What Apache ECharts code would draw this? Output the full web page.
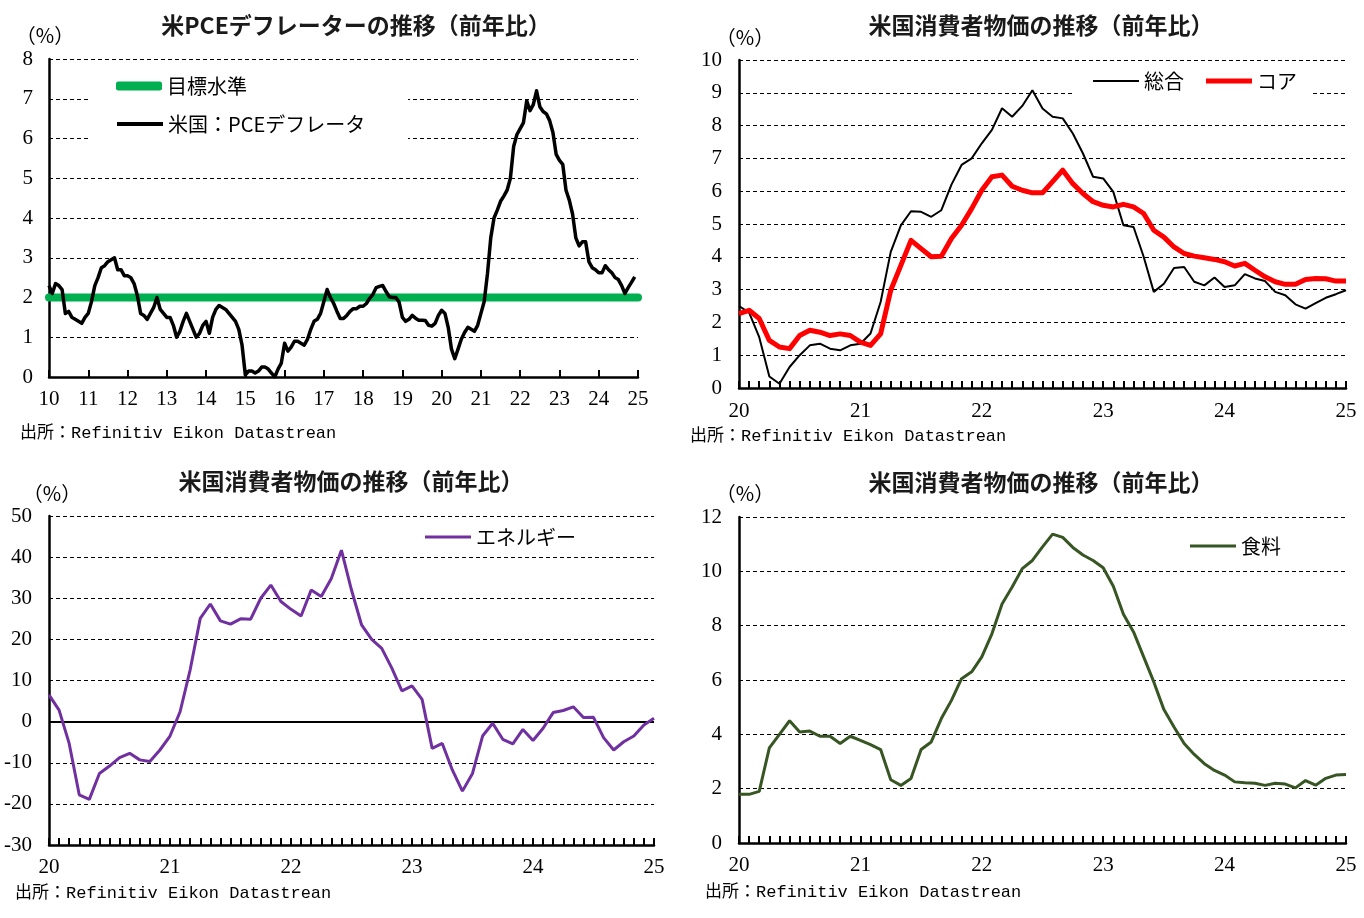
<!DOCTYPE html>
<html lang="ja">
<head>
    <meta charset="UTF-8">
    <title>米国物価の推移</title>
    <style>
        html, body { margin: 0; padding: 0; background: #fff; }
    </style>
</head>
<body>
<div id="main" style="width: 1364px;height:918px;"></div>
<script src="https://cdn.jsdelivr.net/npm/echarts@6/dist/echarts.min.js"></script>
<script>
    // PCEデフレーター 前年比（2010年1月〜2024年12月、月次）
    var pceStart = 10;
    var pceValues = [
        2.3, 2.1, 2.35, 2.3, 2.2, 1.6, 1.65, 1.5, 1.45, 1.4, 1.35, 1.5,
        1.6, 1.9, 2.3, 2.5, 2.75, 2.8, 2.9, 2.95, 3.0, 2.7, 2.7, 2.55,
        2.55, 2.5, 2.35, 2.05, 1.6, 1.55, 1.45, 1.6, 1.75, 2.0, 1.7, 1.6,
        1.5, 1.5, 1.3, 1.0, 1.15, 1.4, 1.6, 1.4, 1.2, 1.0, 1.1, 1.3,
        1.4, 1.1, 1.5, 1.7, 1.8, 1.75, 1.7, 1.6, 1.5, 1.4, 1.2, 0.8,
        0.05, 0.15, 0.15, 0.1, 0.15, 0.25, 0.25, 0.2, 0.1, 0.0, 0.2, 0.35,
        0.85, 0.65, 0.75, 0.9, 0.9, 0.85, 0.8, 0.95, 1.2, 1.4, 1.45, 1.6,
        1.9, 2.2, 2.0, 1.85, 1.65, 1.47, 1.47, 1.55, 1.65, 1.72, 1.72, 1.78,
        1.78, 1.85, 1.98, 2.08, 2.25, 2.28, 2.3, 2.15, 2.02, 2.0, 2.0, 1.88,
        1.5, 1.4, 1.45, 1.55, 1.48, 1.43, 1.43, 1.42, 1.3, 1.28, 1.35, 1.55,
        1.68, 1.6, 1.25, 0.7, 0.46, 0.7, 0.95, 1.12, 1.25, 1.2, 1.15, 1.3,
        1.6, 1.9, 2.6, 3.5, 4.0, 4.2, 4.42, 4.55, 4.7, 5.0, 5.8, 6.1,
        6.25, 6.4, 6.95, 6.7, 6.85, 7.2, 6.8, 6.68, 6.62, 6.45, 6.15, 5.6,
        5.45, 5.35, 4.7, 4.45, 4.1, 3.5, 3.3, 3.4, 3.4, 2.9, 2.75, 2.7,
        2.62, 2.62, 2.8, 2.7, 2.62, 2.5, 2.45, 2.3, 2.1, 2.25, 2.38, 2.52
    ];
    var targetLevel = 2;
    var pceYears = [10, 25];

    // 消費者物価 前年比（2020年1月〜2025年1月、月次）
    var cpiAll = [
        2.5, 2.3, 1.55, 0.35, 0.13, 0.64, 1.0, 1.3, 1.35, 1.2, 1.15, 1.3,
        1.35, 1.66, 2.62, 4.15, 4.96, 5.39, 5.37, 5.22, 5.42, 6.2, 6.8, 7.0,
        7.46, 7.87, 8.53, 8.27, 8.6, 9.08, 8.52, 8.27, 8.22, 7.76, 7.15, 6.44,
        6.39, 5.98, 4.96, 4.91, 4.0, 2.93, 3.18, 3.66, 3.69, 3.24, 3.13, 3.37,
        3.08, 3.13, 3.47, 3.34, 3.26, 2.93, 2.83, 2.55, 2.42, 2.59, 2.75, 2.86,
        2.98
    ];
    var cpiCore = [
        2.27, 2.37, 2.12, 1.45, 1.25, 1.2, 1.6, 1.76, 1.7, 1.6, 1.65, 1.6,
        1.4, 1.3, 1.65, 2.98, 3.74, 4.5, 4.25, 4.0, 4.02, 4.56, 4.96, 5.47,
        6.03, 6.44, 6.49, 6.15, 6.03, 5.95, 5.95, 6.29, 6.64, 6.23, 5.93, 5.68,
        5.57, 5.52, 5.6, 5.52, 5.32, 4.81, 4.6, 4.3, 4.1, 4.02, 3.97, 3.92,
        3.85, 3.72, 3.8, 3.59, 3.39, 3.24, 3.16, 3.16, 3.31, 3.34, 3.33, 3.26,
        3.26
    ];
    var cpiEnergy = [
        6.5, 2.8, -5.3, -17.8, -18.9, -12.6, -10.8, -8.75, -7.7, -9.3, -9.7, -6.9,
        -3.5, 2.4, 12.6, 25.1, 28.6, 24.5, 23.7, 25.0, 24.9, 30.0, 33.2, 29.2,
        27.3, 25.7, 32.0, 30.4, 34.8, 41.7, 32.0, 23.5, 20.0, 17.8, 13.0, 7.5,
        8.7, 5.4, -6.5, -5.3, -11.75, -16.9, -12.6, -3.5, -0.4, -4.3, -5.4, -1.9,
        -4.6, -1.6, 2.2, 2.7, 3.6, 1.0, 1.05, -3.9, -6.9, -4.9, -3.5, -0.8,
        0.8
    ];
    var cpiFood = [
        1.79, 1.79, 1.9, 3.5, 4.0, 4.5, 4.09, 4.12, 3.93, 3.93, 3.66, 3.93,
        3.78, 3.62, 3.44, 2.33, 2.12, 2.37, 3.44, 3.72, 4.58, 5.25, 6.05, 6.3,
        6.85, 7.7, 8.8, 9.42, 10.1, 10.4, 10.9, 11.37, 11.25, 10.88, 10.6, 10.4,
        10.13, 9.45, 8.42, 7.77, 6.85, 5.93, 4.91, 4.27, 3.66, 3.26, 2.92, 2.67,
        2.5, 2.25, 2.22, 2.2, 2.12, 2.2, 2.17, 2.03, 2.3, 2.13, 2.38, 2.5,
        2.52
    ];
    // 月次カテゴリ（"20/01" 〜 "25/01"）
    var cpiMonths = [];
    for (var i = 0; i < cpiAll.length; i++) {
        var yy = 20 + Math.floor(i / 12);
        var mm = i % 12 + 1;
        cpiMonths.push(yy + '/' + (mm < 10 ? '0' + mm : mm));
    }

    var titles = [
        '米PCEデフレーターの推移（前年比）',
        '米国消費者物価の推移（前年比）',
        '米国消費者物価の推移（前年比）',
        '米国消費者物価の推移（前年比）'
    ];
    var sourceText = '出所：Refinitiv Eikon Datastrean';

    // 月次データを [年, 値] に変換（PCEのx軸は年の数値）
    function monthly(start, values) {
        return values.map(function (v, i) {
            return [start + i / 12, v];
        });
    }

    var serif = '"Liberation Serif", "DejaVu Serif", serif';
    var jp = '"Noto Sans CJK JP", sans-serif';
    var mono = '17px "Liberation Mono", "Noto Sans CJK JP", monospace';

    function monthAxis(gridIndex, margin) {
        return {
            type: 'category',
            gridIndex: gridIndex,
            data: cpiMonths,
            boundaryGap: false,
            splitLine: {show: false},
            axisLine: {show: true, onZero: false, lineStyle: {color: '#000', width: 2.5}},
            // 月ごとの目盛り（内向き）
            axisTick: {show: true, inside: true, interval: 0, length: 7, lineStyle: {color: '#000', width: 2}},
            axisLabel: {
                color: '#000', fontFamily: serif, fontSize: 21, margin: margin,
                interval: 11,
                formatter: function (v) { return v.slice(0, 2); }
            }
        };
    }

    function yAxisOf(gridIndex, min, max, interval, margin) {
        return {
            type: 'value',
            gridIndex: gridIndex,
            min: min,
            max: max,
            interval: interval,
            axisLine: {show: true, lineStyle: {color: '#000', width: 2.5}},
            axisTick: {show: false},
            splitLine: {show: true, lineStyle: {color: '#000', width: 1, type: [4, 3]}},
            axisLabel: {color: '#000', fontFamily: serif, fontSize: 21, margin: margin}
        };
    }

    function legendOf(name, left, top, color, h) {
        return {
            data: [name],
            left: left,
            top: top,
            padding: 0,
            itemWidth: 46,
            itemHeight: h,
            icon: h > 5 ? 'roundRect' : 'rect',
            selectedMode: false,
            itemStyle: {color: color},
            textStyle: {color: '#000', fontFamily: jp, fontSize: 20}
        };
    }

    function titleOf(text, cx, top) {
        return {
            text: text,
            left: cx,
            top: top,
            textAlign: 'center',
            padding: 0,
            textStyle: {color: '#1a1a1a', fontFamily: jp, fontSize: 23, fontWeight: 'bold'}
        };
    }

    function label(text, x, y, font, align) {
        return {
            type: 'text',
            z: 10,
            style: {text: text, x: x, y: y, font: font, fill: '#000', textAlign: align || 'left', textVerticalAlign: 'middle'}
        };
    }

    var myChart = echarts.init(document.getElementById('main'));

    var option = {
        animation: false,
        backgroundColor: '#fff',
        title: [
            titleOf(titles[0], 356, 14),
            titleOf(titles[1], 1041, 14),
            titleOf(titles[2], 351, 470),
            titleOf(titles[3], 1041, 471)
        ],
        grid: [
            {left: 49, top: 59, width: 589, height: 318},
            {left: 739, top: 60, width: 607, height: 328},
            {left: 49, top: 516, width: 605, height: 329},
            {left: 739, top: 517, width: 607, height: 326}
        ],
        xAxis: [
            {
                type: 'value',
                gridIndex: 0,
                min: pceYears[0],
                max: pceYears[1],
                interval: 1,
                splitLine: {show: false},
                axisLine: {show: true, onZero: false, lineStyle: {color: '#000', width: 2.5}},
                axisTick: {show: true, inside: true, length: 7, lineStyle: {color: '#000', width: 2}},
                axisLabel: {color: '#000', fontFamily: serif, fontSize: 21, margin: 12}
            },
            monthAxis(1, 13),
            monthAxis(2, 12),
            monthAxis(3, 12)
        ],
        yAxis: [
            yAxisOf(0, 0, 8, 1, 16),
            yAxisOf(1, 0, 10, 1, 17),
            yAxisOf(2, -30, 50, 10, 17),
            yAxisOf(3, 0, 12, 2, 17)
        ],
        legend: [
            legendOf('目標水準', 116, 76, '#00b050', 9),
            legendOf('米国：PCEデフレータ', 117, 114, '#000', 4),
            legendOf('総合', 1093, 71, '#000', 2),
            legendOf('コア', 1206, 71, '#ff0000', 5),
            legendOf('エネルギー', 425, 527, '#7030a0', 3),
            legendOf('食料', 1190, 536, '#375623', 3)
        ],
        graphic: [
            // 凡例の背景（グリッド線を隠す）
            {type: 'rect', z: 1, shape: {x: 90, y: 68, width: 318, height: 84}, style: {fill: '#fff'}},
            {type: 'rect', z: 1, shape: {x: 1073, y: 68, width: 237, height: 44}, style: {fill: '#fff'}},
            label('（%）', 45, 35, '20px ' + jp, 'center'),
            label('（%）', 745, 37, '20px ' + jp, 'center'),
            label('（%）', 52, 493, '20px ' + jp, 'center'),
            label('（%）', 745, 493, '20px ' + jp, 'center'),
            label(sourceText, 20, 433, mono),
            label(sourceText, 690, 436, mono),
            label(sourceText, 15, 893, mono),
            label(sourceText, 705, 892, mono)
        ],
        series: [
            {
                name: '目標水準',
                type: 'line',
                xAxisIndex: 0,
                yAxisIndex: 0,
                data: [[pceYears[0], targetLevel], [pceYears[1], targetLevel]],
                showSymbol: false,
                z: 2,
                lineStyle: {color: '#00b050', width: 8, cap: 'round'},
                itemStyle: {color: '#00b050'}
            },
            {
                name: '米国：PCEデフレータ',
                type: 'line',
                xAxisIndex: 0,
                yAxisIndex: 0,
                data: monthly(pceStart, pceValues),
                showSymbol: false,
                z: 3,
                lineStyle: {color: '#000', width: 3.5, join: 'round'},
                itemStyle: {color: '#000'}
            },
            {
                name: '総合',
                type: 'line',
                xAxisIndex: 1,
                yAxisIndex: 1,
                data: cpiAll,
                showSymbol: false,
                z: 3,
                lineStyle: {color: '#000', width: 2},
                itemStyle: {color: '#000'}
            },
            {
                name: 'コア',
                type: 'line',
                xAxisIndex: 1,
                yAxisIndex: 1,
                data: cpiCore,
                showSymbol: false,
                z: 4,
                lineStyle: {color: '#ff0000', width: 5, join: 'round'},
                itemStyle: {color: '#ff0000'}
            },
            {
                name: 'エネルギー',
                type: 'line',
                xAxisIndex: 2,
                yAxisIndex: 2,
                data: cpiEnergy,
                showSymbol: false,
                z: 3,
                lineStyle: {color: '#7030a0', width: 3},
                itemStyle: {color: '#7030a0'},
                // ゼロ線
                markLine: {
                    silent: true,
                    symbol: 'none',
                    label: {show: false},
                    z: 2,
                    lineStyle: {color: '#000', type: 'solid', width: 2},
                    data: [{yAxis: 0}]
                }
            },
            {
                name: '食料',
                type: 'line',
                xAxisIndex: 3,
                yAxisIndex: 3,
                data: cpiFood,
                showSymbol: false,
                z: 3,
                lineStyle: {color: '#375623', width: 3},
                itemStyle: {color: '#375623'}
            }
        ]
    };

    myChart.setOption(option);
</script>
</body>
</html>
